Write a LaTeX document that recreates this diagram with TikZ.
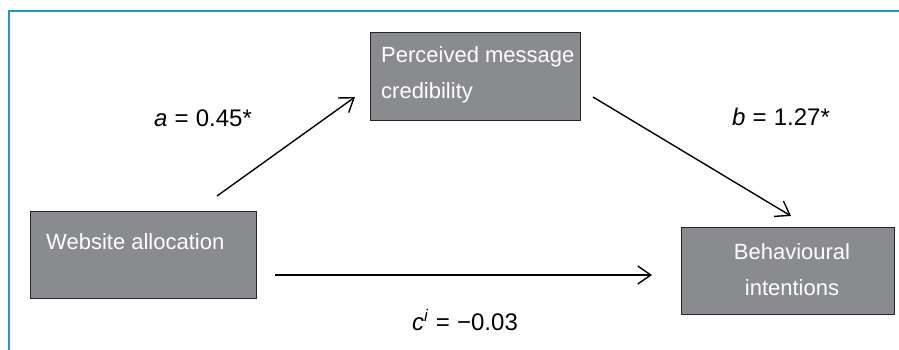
\documentclass[tikz,border=0pt]{standalone}
\usepackage{fontspec}
\setmainfont{Liberation Sans}
\usetikzlibrary{arrows.meta}
\definecolor{frameblue}{RGB}{30,152,188}
\definecolor{boxgray}{RGB}{138,139,143}
\begin{document}
\begin{tikzpicture}[x=1pt,y=-1pt,
  boxnode/.style={draw=black!85, line width=0.8pt, fill=boxgray, inner sep=0pt},
  boxtext/.style={text=white, font=\fontsize{22}{35.5}\selectfont, inner sep=0pt},
  pathlabel/.style={font=\fontsize{24}{28}\selectfont, inner sep=0pt},
  conn/.style={line width=1.4pt, -{Straight Barb[length=13pt,width=18pt,line width=1.4pt]}}]
\useasboundingbox (0,0) rectangle (899,350);
% frame
\draw[frameblue, line width=2pt] (9,350) -- (9,11) -- (899,11);
% boxes
\node[boxnode, minimum width=210pt, minimum height=88pt] (perc) at (475,76) {};
\node[boxnode, minimum width=226pt, minimum height=87pt] (web) at (143,254.5) {};
\node[boxnode, minimum width=213pt, minimum height=87pt] (beh) at (787.5,270.5) {};
% box texts
\node[boxtext, anchor=west, align=left] (perctext) at (381,75) {Perceived message\\credibility};
\node[boxtext, anchor=west] (webtext) at (46,242) {Website allocation};
\node[boxtext, align=center] (behtext) at (792,269.5) {Behavioural\\intentions};
% connector end points
\coordinate (aS) at (217,196);
\coordinate (aE) at (355,97);
\coordinate (bS) at (593,97);
\coordinate (bE) at (791,216);
\coordinate (cS) at (275,275);
\coordinate (cE) at (652,275);
\draw[conn] (aS) -- (aE);
\draw[conn] (bS) -- (bE);
\draw[conn] (cS) -- (cE);
% labels
\node[pathlabel] (alab) at (203,118) {\textit{a}\hspace{0.3em}=\hspace{0.3em}0.45*};
\node[pathlabel] (blab) at (781,117) {\textit{b}\hspace{0.3em}=\hspace{0.3em}1.27*};
\node[pathlabel] (clab) at (465,320) {\textit{c}\textsuperscript{\textit{i}}\hspace{0.3em}=\hspace{0.3em}−0.03};
\end{tikzpicture}
\end{document}
